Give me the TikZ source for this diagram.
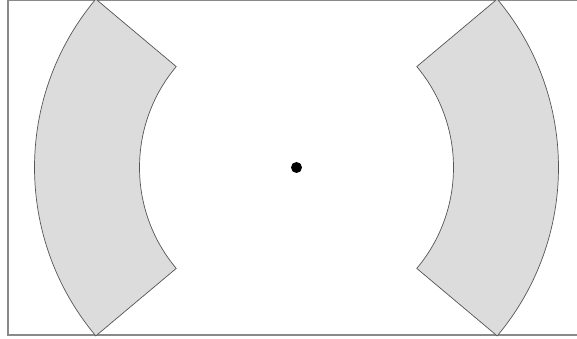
\documentclass[tikz,border=0pt]{standalone}
\usetikzlibrary{calc}
\definecolor{ringfill}{HTML}{DCDCDD}
\definecolor{ringline}{HTML}{555555}
\definecolor{framegray}{HTML}{8A8A8A}

\begin{document}
\begin{tikzpicture}[x=0.03cm, y=0.03cm,
    ring/.style={fill=ringfill, draw=ringline, line width=0.6pt, line join=miter},
    frameline/.style={draw=framegray, line width=1.1pt}]
    \useasboundingbox (0,0) rectangle (577,339);
    % frame, open on the right
    \draw[frameline] (577,338.5) -- (8,338.5) -- (8,4) -- (577,4);
    \coordinate (c) at (296.5,171.5);
    % left sector
    \draw[ring] ($(c)+(140:262)$) arc[start angle=140, end angle=220, radius=262]
      -- ($(c)+(220:157)$) arc[start angle=220, end angle=140, radius=157] -- cycle;
    % right sector
    \draw[ring] ($(c)+(40:262)$) arc[start angle=40, end angle=-40, radius=262]
      -- ($(c)+(-40:157)$) arc[start angle=-40, end angle=40, radius=157] -- cycle;
    \node[circle, fill=black, inner sep=0pt, minimum size=0.33cm] (centre) at (c) {};
\end{tikzpicture}
\end{document}
